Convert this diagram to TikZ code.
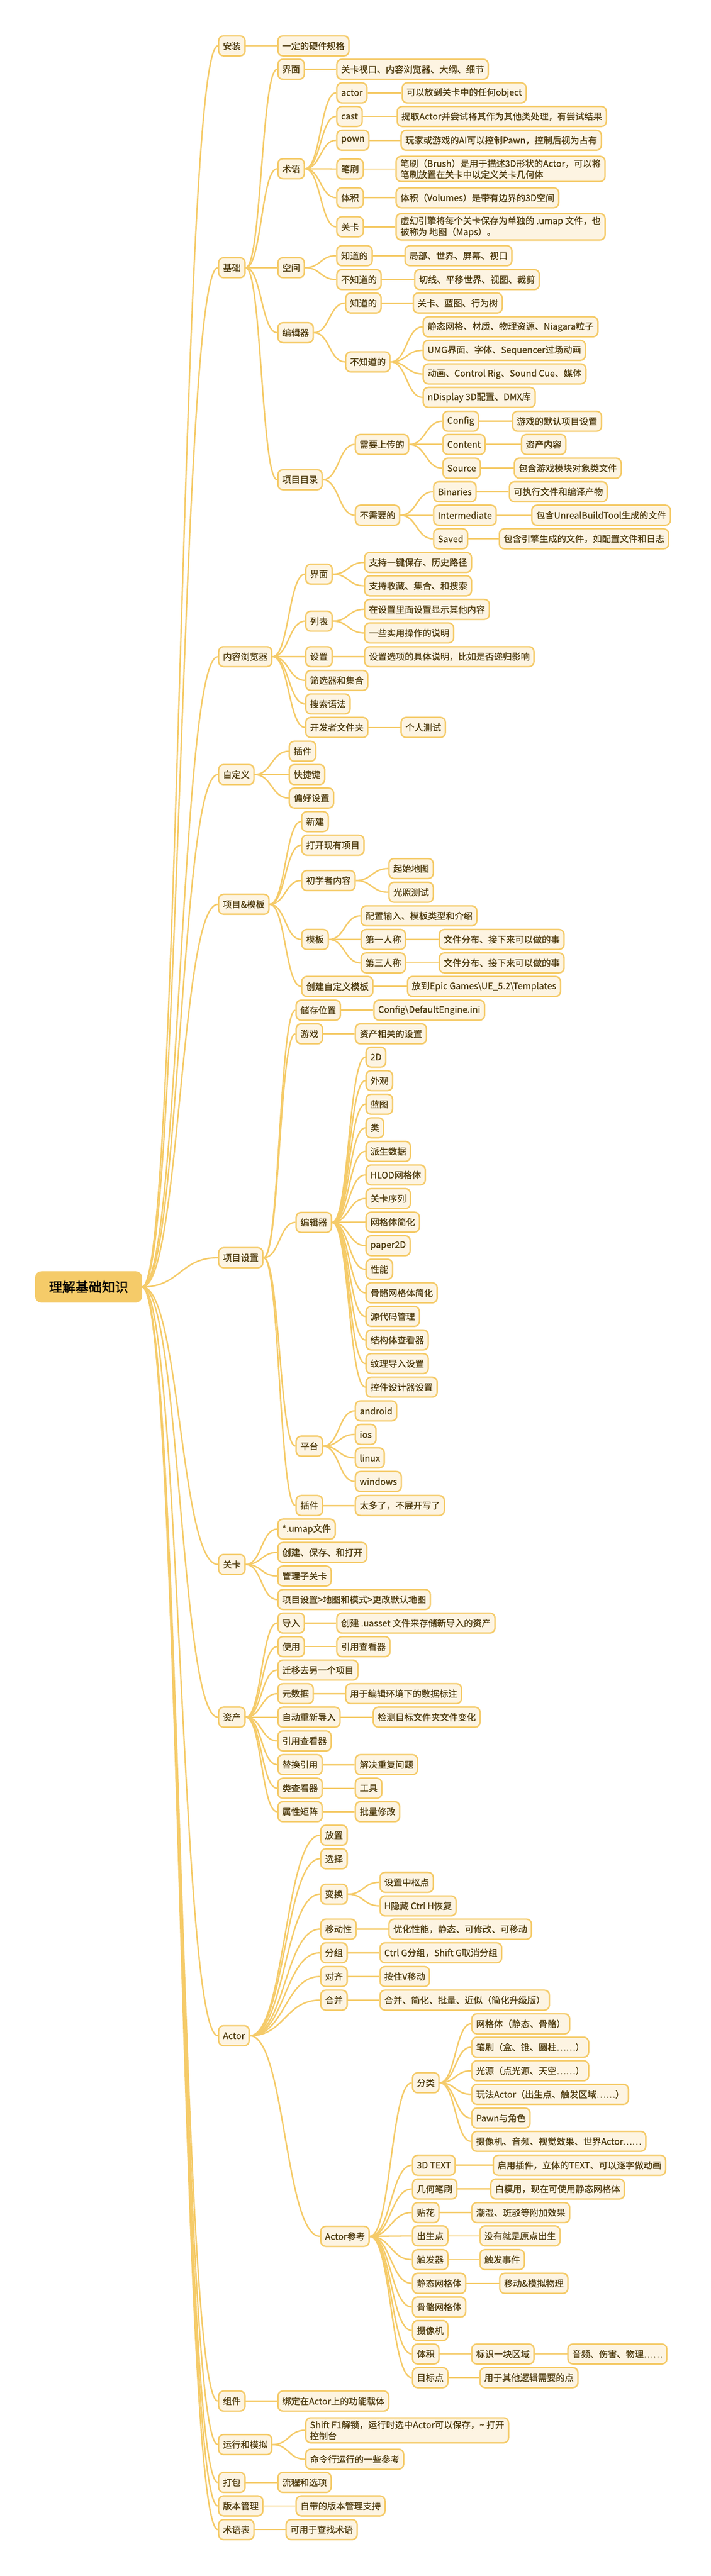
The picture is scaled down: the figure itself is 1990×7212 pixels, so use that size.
\documentclass[tikz,border=0pt]{standalone}
\usepackage{fontspec}
\setmainfont[FakeBold=0.4]{Noto Sans CJK SC}
\newfontfamily\rootfont[FakeBold=1.6]{Noto Sans CJK SC}
\usepackage{xcolor}
\usetikzlibrary{calc,backgrounds}
\definecolor{mapline}{HTML}{F5CB69}
\definecolor{mapfill}{HTML}{FDF4E2}
\definecolor{maptext}{HTML}{4A3709}

\begin{document}
\begin{tikzpicture}[x=1pt,y=-1pt]
  \tikzset{topic/.style = {shape=rectangle,rounded corners=14pt,draw=mapline,fill=mapfill,line width=4pt,text=maptext,font=\fontsize{25}{31}\selectfont,minimum height=56pt,inner xsep=12pt,inner ysep=8pt,anchor=west,align=left}}
  \tikzset{central/.style = {shape=rectangle,rounded corners=16pt,draw=mapline,fill=mapline,line width=4pt,text=black,font=\rootfont\fontsize{37}{44}\selectfont,minimum width=296pt,minimum height=84pt}}
  \tikzset{branch/.style = {draw=mapline,line width=4pt,to path={let \p1=(\tikztostart), \p2=(\tikztotarget), \n1={0.5*(\x2-\x1)} in .. controls +(\n1,0) and +(-\n1,0) .. (\tikztotarget)}}}

  \useasboundingbox (0,0) rectangle (1990,7212);

	\node[central] (R) at (248,3603) {理解基础知识};

	\node[topic] (AZ) at (610,128.5) {安装};
	\node[topic] (JC) at (610,749.5) {基础};
	\node[topic] (NR) at (610,1838.4) {内容浏览器};
	\node[topic] (ZD) at (610,2168.5) {自定义};
	\node[topic] (XM) at (610,2531.7) {项目\&模板};
	\node[topic] (SZ) at (610,3521.2) {项目设置};
	\node[topic] (GK) at (610,4380) {关卡};
	\node[topic] (ZC) at (610,4807.5) {资产};
	\node[topic] (AC) at (610,5699.3) {Actor};
	\node[topic] (ZJ) at (610,6722.2) {组件};
	\node[topic] (YX) at (610,6844) {运行和模拟};
	\node[topic] (DB) at (610,6950) {打包};
	\node[topic] (BB) at (610,7015.7) {版本管理};
	\node[topic] (SYB) at (610,7082) {术语表};

	\node[topic] (AZyj) at (776,128.5) {一定的硬件规格};

	\node[topic] (JCjm) at (776,194) {界面};
	\node[topic] (JCjm1) at (941,194) {关卡视口、内容浏览器、大纲、细节};

	\node[topic] (JCsy) at (776,472.5) {术语};
		\node[topic] (SYa) at (941,260) {actor};
		\node[topic] (SYc) at (941,326) {cast};
		\node[topic] (SYp) at (941,392.6) {pown};
		\node[topic] (SYb) at (941,473) {笔刷};
		\node[topic] (SYt) at (941,553.6) {体积};
		\node[topic] (SYg) at (941,635) {关卡};
	\node[topic] (SYa1) at (1124,260) {可以放到关卡中的任何object};
	\node[topic] (SYc1) at (1110,326) {提取Actor并尝试将其作为其他类处理，有尝试结果};
	\node[topic] (SYp1) at (1121,392.6) {玩家或游戏的AI可以控制Pawn，控制后视为占有};
	\node[topic] (SYb1) at (1107,473) {笔刷（Brush）是用于描述3D形状的Actor，可以将\\笔刷放置在关卡中以定义关卡几何体};
	\node[topic] (SYt1) at (1107,553.6) {体积（Volumes）是带有边界的3D空间};
	\node[topic] (SYg1) at (1107,635) {虚幻引擎将每个关卡保存为单独的 .umap 文件，也\\被称为 地图（Maps）。};

	\node[topic] (JCkj) at (776,749.5) {空间};
		\node[topic] (KJzd) at (941,715.9) {知道的};
		\node[topic] (KJbz) at (941,782.7) {不知道的};
	\node[topic] (KJzd1) at (1132,715.9) {局部、世界、屏幕、视口};
	\node[topic] (KJbz1) at (1159,782.7) {切线、平移世界、视图、裁剪};

	\node[topic] (JCbj) at (776,931.4) {编辑器};
		\node[topic] (BJzd) at (966,848.3) {知道的};
		\node[topic] (BJbz) at (966,1013.2) {不知道的};
	\node[topic] (BJzd1) at (1155,848.3) {关卡、蓝图、行为树};
	\node[topic] (BJbz1) at (1183,915) {静态网格、材质、物理资源、Niagara粒子};
	\node[topic] (BJbz2) at (1183,980.8) {UMG界面、字体、Sequencer过场动画};
	\node[topic] (BJbz3) at (1183,1046.8) {动画、Control Rig、Sound Cue、媒体};
	\node[topic] (BJbz4) at (1183,1112.5) {nDisplay 3D配置、DMX库};

	\node[topic] (JCml) at (776,1343) {项目目录};
		\node[topic] (MLxy) at (993,1244.3) {需要上传的};
		\node[topic] (MLbx) at (993,1442.4) {不需要的};
	\node[topic] (MLcf) at (1238,1179.3) {Config};
	\node[topic] (MLct) at (1238,1244.3) {Content};
	\node[topic] (MLsr) at (1238,1310.7) {Source};
	\node[topic] (MLbn) at (1212,1376.8) {Binaries};
	\node[topic] (MLim) at (1212,1442.4) {Intermediate};
	\node[topic] (MLsv) at (1212,1508.4) {Saved};
	\node[topic] (MLcf1) at (1433,1179.3) {游戏的默认项目设置};
	\node[topic] (MLct1) at (1458,1244.3) {资产内容};
	\node[topic] (MLsr1) at (1438,1310.7) {包含游戏模块对象类文件};
	\node[topic] (MLbn1) at (1424,1376.8) {可执行文件和编译产物};
	\node[topic] (MLim1) at (1487,1442.4) {包含UnrealBuildTool生成的文件};
	\node[topic] (MLsv1) at (1396,1508.4) {包含引擎生成的文件，如配置文件和日志};

	\node[topic] (NRjm) at (854,1607.3) {界面};
	\node[topic] (NRlb) at (854,1739) {列表};
	\node[topic] (NRsz) at (854,1838.4) {设置};
	\node[topic] (NRsx) at (854,1904.8) {筛选器和集合};
	\node[topic] (NRss) at (854,1970.8) {搜索语法};
	\node[topic] (NRkf) at (854,2036.5) {开发者文件夹};
	\node[topic] (NRjm1) at (1019,1574.5) {支持一键保存、历史路径};
	\node[topic] (NRjm2) at (1019,1640) {支持收藏、集合、和搜索};
	\node[topic] (NRlb1) at (1019,1706) {在设置里面设置显示其他内容};
	\node[topic] (NRlb2) at (1019,1772) {一些实用操作的说明};
	\node[topic] (NRsz1) at (1019,1838.4) {设置选项的具体说明，比如是否递归影响};
	\node[topic] (NRkf1) at (1121,2036.5) {个人测试};

	\node[topic] (ZDcj) at (808,2103.3) {插件};
	\node[topic] (ZDkj) at (808,2168.5) {快捷键};
	\node[topic] (ZDph) at (808,2234.2) {偏好设置};

	\node[topic] (XMxj) at (843,2300.2) {新建};
	\node[topic] (XMdk) at (843,2366.2) {打开现有项目};
	\node[topic] (XMcx) at (843,2465.2) {初学者内容};
	\node[topic] (XMmb) at (843,2630.1) {模板};
	\node[topic] (XMzd) at (843,2761.8) {创建自定义模板};
	\node[topic] (XMcx1) at (1087,2431.6) {起始地图};
	\node[topic] (XMcx2) at (1087,2498) {光照测试};
	\node[topic] (XMmb1) at (1009,2564.1) {配置输入、模板类型和介绍};
	\node[topic] (XMmb2) at (1009,2630.1) {第一人称};
	\node[topic] (XMmb3) at (1009,2695.8) {第三人称};
	\node[topic] (XMmb21) at (1228,2630.1) {文件分布、接下来可以做的事};
	\node[topic] (XMmb31) at (1228,2695.8) {文件分布、接下来可以做的事};
	\node[topic] (XMzd1) at (1139,2761.8) {放到Epic Games\textbackslash UE\_5.2\textbackslash Templates};

	\node[topic] (SZcc) at (827,2828.2) {储存位置};
	\node[topic] (SZyx) at (827,2894.3) {游戏};
	\node[topic] (SZbj) at (827,3422.3) {编辑器};
	\node[topic] (SZpt) at (827,4048.8) {平台};
	\node[topic] (SZcj) at (827,4215) {插件};
	\node[topic] (SZcc1) at (1045,2828.2) {Config\textbackslash DefaultEngine.ini};
	\node[topic] (SZyx1) at (993,2894.3) {资产相关的设置};
	\foreach \t [count=\i] in {2D,外观,蓝图,类,派生数据,HLOD网格体,关卡序列,网格体简化,paper2D,性能,骨骼网格体简化,源代码管理,结构体查看器,纹理导入设置,控件设计器设置}
	  \node[topic] (SZbj\i) at (1023,{2959.5+66*(\i-1)}) {\t};
	\node[topic] (SZpt1) at (993,3950) {android};
	\node[topic] (SZpt2) at (993,4016) {ios};
	\node[topic] (SZpt3) at (993,4081.6) {linux};
	\node[topic] (SZpt4) at (993,4147.6) {windows};
	\node[topic] (SZcj1) at (993,4215) {太多了，不展开写了};

	\node[topic] (GK1) at (776,4281) {*.umap文件};
	\node[topic] (GK2) at (776,4346.3) {创建、保存、和打开};
	\node[topic] (GK3) at (776,4412.3) {管理子关卡};
	\node[topic] (GK4) at (776,4478) {项目设置>地图和模式>更改默认地图};

	\node[topic] (ZCdr) at (776,4544) {导入};
	\node[topic] (ZCsy) at (776,4610) {使用};
	\node[topic] (ZCqy) at (776,4675.7) {迁移去另一个项目};
	\node[topic] (ZCys) at (776,4741.7) {元数据};
	\node[topic] (ZCzd) at (776,4807.5) {自动重新导入};
	\node[topic] (ZCyy) at (776,4874) {引用查看器};
	\node[topic] (ZCth) at (776,4940.4) {替换引用};
	\node[topic] (ZClc) at (776,5006.4) {类查看器};
	\node[topic] (ZCsx) at (776,5072) {属性矩阵};
	\node[topic] (ZCdr1) at (941,4544) {创建 .uasset 文件来存储新导入的资产};
	\node[topic] (ZCsy1) at (941,4610) {引用查看器};
	\node[topic] (ZCys1) at (966,4741.7) {用于编辑环境下的数据标注};
	\node[topic] (ZCzd1) at (1043,4807.5) {检测目标文件夹文件变化};
	\node[topic] (ZCth1) at (993,4940.4) {解决重复问题};
	\node[topic] (ZClc1) at (993,5006.4) {工具};
	\node[topic] (ZCsx1) at (993,5072) {批量修改};

	\node[topic] (ACfz) at (896,5138) {放置};
	\node[topic] (ACxz) at (896,5204) {选择};
	\node[topic] (ACbh) at (896,5303) {变换};
	\node[topic] (ACyd) at (896,5401) {移动性};
	\node[topic] (ACfg) at (896,5467.2) {分组};
	\node[topic] (ACdq) at (896,5533.6) {对齐};
	\node[topic] (AChb) at (896,5599.7) {合并};
	\node[topic] (ACck) at (896,6261) {Actor参考};
	\node[topic] (ACbh1) at (1062,5269.8) {设置中枢点};
	\node[topic] (ACbh2) at (1062,5335.8) {H隐藏 Ctrl H恢复};
	\node[topic] (ACyd1) at (1087,5401) {优化性能，静态、可修改、可移动};
	\node[topic] (ACfg1) at (1062,5467.2) {Ctrl G分组，Shift G取消分组};
	\node[topic] (ACdq1) at (1062,5533.6) {按住V移动};
	\node[topic] (AChb1) at (1062,5599.7) {合并、简化、批量、近似（简化升级版）};

		\node[topic] (CKfl) at (1153,5831) {分类};
		\node[topic] (CKsd) at (1153,6062) {3D TEXT};
		\node[topic] (CKjh) at (1153,6128.5) {几何笔刷};
		\node[topic] (CKth) at (1153,6194.5) {贴花};
		\node[topic] (CKcs) at (1153,6259.8) {出生点};
		\node[topic] (CKcf) at (1153,6326.2) {触发器};
		\node[topic] (CKjt) at (1153,6392.6) {静态网格体};
		\node[topic] (CKgg) at (1153,6458.7) {骨骼网格体};
		\node[topic] (CKsx) at (1153,6524.7) {摄像机};
		\node[topic] (CKtj) at (1153,6590.4) {体积};
		\node[topic] (CKmb) at (1153,6656.6) {目标点};
	\node[topic] (CKfl1) at (1319,5666) {网格体（静态、骨骼）};
	\node[topic] (CKfl2) at (1319,5731.4) {笔刷（盒、锥、圆柱……）};
	\node[topic] (CKfl3) at (1319,5797.4) {光源（点光源、天空……）};
	\node[topic] (CKfl4) at (1319,5863.4) {玩法Actor（出生点、触发区域……）};
	\node[topic] (CKfl5) at (1319,5929.9) {Pawn与角色};
	\node[topic] (CKfl6) at (1319,5995) {摄像机、音频、视觉效果、世界Actor……};
	\node[topic] (CKsd1) at (1379,6062) {启用插件，立体的TEXT、可以逐字做动画};
	\node[topic] (CKjh1) at (1372,6128.5) {白模用，现在可使用静态网格体};
	\node[topic] (CKth1) at (1319,6194.5) {潮湿、斑驳等附加效果};
	\node[topic] (CKcs1) at (1342,6259.8) {没有就是原点出生};
	\node[topic] (CKcf1) at (1342,6326.2) {触发事件};
	\node[topic] (CKjt1) at (1397,6392.6) {移动\&模拟物理};
	\node[topic] (CKtj1) at (1319,6590.4) {标识一块区域};
	\node[topic] (CKtj2) at (1588,6590.4) {音频、伤害、物理……};
	\node[topic] (CKmb1) at (1342,6656.6) {用于其他逻辑需要的点};

	\node[topic] (ZJ1) at (776,6722.2) {绑定在Actor上的功能载体};
	\node[topic] (YX1) at (854,6804) {Shift F1解锁，运行时选中Actor可以保存，\textasciitilde{} 打开\\控制台};
	\node[topic] (YX2) at (854,6885) {命令行运行的一些参考};
	\node[topic] (DB1) at (776,6950) {流程和选项};
	\node[topic] (BB1) at (827,7015.7) {自带的版本管理支持};
	\node[topic] (SYB1) at (799,7082) {可用于查找术语};

  \begin{scope}[on background layer]
    \fill[white] (0,0) rectangle (1990,7212);
    \foreach \from/\to in {R/AZ, R/JC, R/NR, R/ZD, R/XM, R/SZ, R/GK, R/ZC, R/AC, R/ZJ, R/YX, R/DB, R/BB, R/SYB,
       AZ/AZyj, JC/JCjm, JC/JCsy, JC/JCkj, JC/JCbj, JC/JCml, JCjm/JCjm1,
       JCsy/SYa, JCsy/SYc, JCsy/SYp, JCsy/SYb, JCsy/SYt, JCsy/SYg, SYa/SYa1, SYc/SYc1, SYp/SYp1, SYb/SYb1, SYt/SYt1, SYg/SYg1,
       JCkj/KJzd, JCkj/KJbz, KJzd/KJzd1, KJbz/KJbz1,
       JCbj/BJzd, JCbj/BJbz, BJzd/BJzd1, BJbz/BJbz1, BJbz/BJbz2, BJbz/BJbz3, BJbz/BJbz4,
       JCml/MLxy, JCml/MLbx, MLxy/MLcf, MLxy/MLct, MLxy/MLsr, MLcf/MLcf1, MLct/MLct1, MLsr/MLsr1,
       MLbx/MLbn, MLbx/MLim, MLbx/MLsv, MLbn/MLbn1, MLim/MLim1, MLsv/MLsv1,
       NR/NRjm, NR/NRlb, NR/NRsz, NR/NRsx, NR/NRss, NR/NRkf, NRjm/NRjm1, NRjm/NRjm2, NRlb/NRlb1, NRlb/NRlb2, NRsz/NRsz1, NRkf/NRkf1,
       ZD/ZDcj, ZD/ZDkj, ZD/ZDph,
       XM/XMxj, XM/XMdk, XM/XMcx, XM/XMmb, XM/XMzd, XMcx/XMcx1, XMcx/XMcx2, XMmb/XMmb1, XMmb/XMmb2, XMmb/XMmb3, XMmb2/XMmb21, XMmb3/XMmb31, XMzd/XMzd1,
       SZ/SZcc, SZ/SZyx, SZ/SZbj, SZ/SZpt, SZ/SZcj, SZcc/SZcc1, SZyx/SZyx1, SZpt/SZpt1, SZpt/SZpt2, SZpt/SZpt3, SZpt/SZpt4, SZcj/SZcj1,
       GK/GK1, GK/GK2, GK/GK3, GK/GK4,
       ZC/ZCdr, ZC/ZCsy, ZC/ZCqy, ZC/ZCys, ZC/ZCzd, ZC/ZCyy, ZC/ZCth, ZC/ZClc, ZC/ZCsx,
       ZCdr/ZCdr1, ZCsy/ZCsy1, ZCys/ZCys1, ZCzd/ZCzd1, ZCth/ZCth1, ZClc/ZClc1, ZCsx/ZCsx1,
       AC/ACfz, AC/ACxz, AC/ACbh, AC/ACyd, AC/ACfg, AC/ACdq, AC/AChb, AC/ACck,
       ACbh/ACbh1, ACbh/ACbh2, ACyd/ACyd1, ACfg/ACfg1, ACdq/ACdq1, AChb/AChb1,
       ACck/CKfl, ACck/CKsd, ACck/CKjh, ACck/CKth, ACck/CKcs, ACck/CKcf, ACck/CKjt, ACck/CKgg, ACck/CKsx, ACck/CKtj, ACck/CKmb,
       CKfl/CKfl1, CKfl/CKfl2, CKfl/CKfl3, CKfl/CKfl4, CKfl/CKfl5, CKfl/CKfl6,
       CKsd/CKsd1, CKjh/CKjh1, CKth/CKth1, CKcs/CKcs1, CKcf/CKcf1, CKjt/CKjt1, CKtj/CKtj1, CKtj1/CKtj2, CKmb/CKmb1,
       ZJ/ZJ1, YX/YX1, YX/YX2, DB/DB1, BB/BB1, SYB/SYB1}
    \draw[branch] (\from.east) to (\to.west);
    \foreach \i in {1,...,15}
    \draw[branch] (SZbj.east) to (SZbj\i.west);
  \end{scope}

\end{tikzpicture}
\end{document}
